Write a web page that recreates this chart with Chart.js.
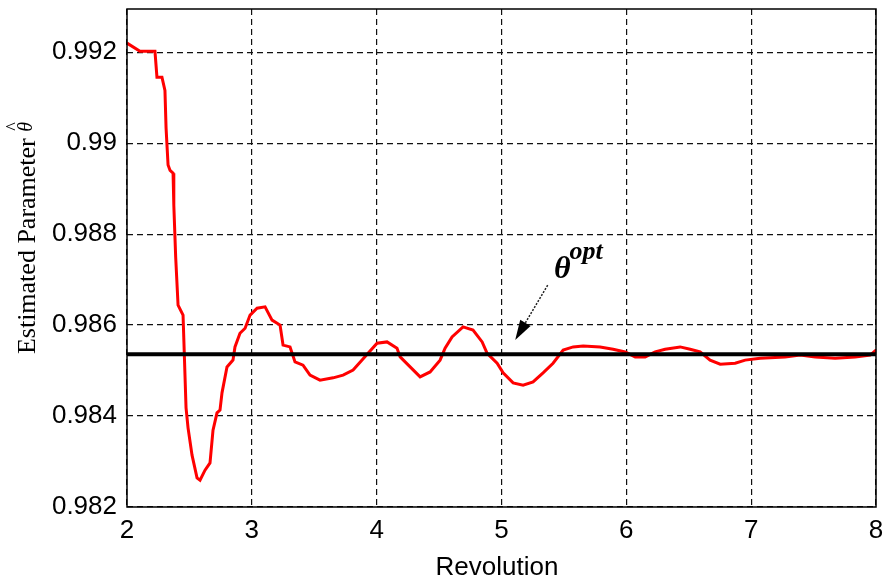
<!DOCTYPE html>
<html>
<head>
<meta charset="utf-8">
<script src="https://cdn.jsdelivr.net/npm/chart.js@4/dist/chart.umd.min.js"></script>
<style>
  html, body { margin: 0; padding: 0; background: #ffffff; }
  #wrap { width: 883px; height: 584px; }
</style>
</head>
<body>
<div id="wrap"><canvas id="c" width="883" height="584"></canvas></div>
<script>
// Estimated parameter over revolutions
const revolution = [
  2.000, 2.104, 2.224, 2.240, 2.280, 2.304, 2.313, 2.329, 2.345, 2.369,
  2.375, 2.390, 2.409, 2.449, 2.473, 2.489, 2.521, 2.561, 2.585, 2.625,
  2.665, 2.689, 2.721, 2.745, 2.761, 2.801, 2.849, 2.865, 2.905, 2.946,
  2.986, 3.042, 3.106, 3.162, 3.226, 3.250, 3.306, 3.346, 3.410, 3.466,
  3.546, 3.651, 3.731, 3.811, 3.883, 3.931, 4.003, 4.083, 4.163, 4.188,
  4.268, 4.348, 4.428, 4.508, 4.548, 4.604, 4.692, 4.772, 4.845, 4.885,
  4.965, 5.013, 5.093, 5.173, 5.253, 5.333, 5.413, 5.494, 5.574, 5.654,
  5.790, 5.894, 5.990, 6.071, 6.151, 6.231, 6.311, 6.431, 6.511, 6.591,
  6.671, 6.752, 6.872, 6.952, 7.072, 7.272, 7.393, 7.513, 7.673, 7.833,
  7.954, 8.000
];
const thetaEst = [
  0.99220, 0.99202, 0.99202, 0.99145, 0.99145, 0.99116, 0.99033, 0.98952, 0.98940, 0.98934,
  0.98864, 0.98749, 0.98644, 0.98622, 0.98418, 0.98374, 0.98314, 0.98264, 0.98259, 0.98281,
  0.98297, 0.98369, 0.98407, 0.98413, 0.98451, 0.98508, 0.98523, 0.98552, 0.98582, 0.98593,
  0.98622, 0.98637, 0.98640, 0.98611, 0.98600, 0.98556, 0.98552, 0.98519, 0.98512, 0.98490,
  0.98479, 0.98484, 0.98490, 0.98501, 0.98523, 0.98538, 0.98560, 0.98563, 0.98549, 0.98530,
  0.98508, 0.98486, 0.98497, 0.98523, 0.98549, 0.98574, 0.98596, 0.98589, 0.98563, 0.98538,
  0.98516, 0.98495, 0.98473, 0.98468, 0.98475, 0.98495, 0.98516, 0.98545, 0.98552, 0.98554,
  0.98552, 0.98547, 0.98541, 0.98530, 0.98530, 0.98541, 0.98547, 0.98552, 0.98547, 0.98541,
  0.98523, 0.98514, 0.98516, 0.98523, 0.98527, 0.98530, 0.98534, 0.98530, 0.98527, 0.98530,
  0.98534, 0.98545
];
// Optimal parameter (horizontal reference)
const thetaOptRev = [2, 8];
const thetaOptVal = [0.98536, 0.98536];

// Axis ticks
const xTicks = [2, 3, 4, 5, 6, 7, 8];
const yTicks = [0.982, 0.984, 0.986, 0.988, 0.99, 0.992];

// Annotation anchors (data coordinates)
const arrowTail = [5.37, 0.98688];
const arrowHead = [5.11, 0.98567];
const optLabelAt = [5.42, 0.98703];

const tickFont = { family: '"Liberation Sans", Arial, sans-serif', size: 26 };

const framePlugin = {
  id: 'frameAndLabels',
  afterDraw(chart) {
    const ctx = chart.ctx;
    const a = chart.chartArea;
    const xs = chart.scales.x, ys = chart.scales.y;
    ctx.save();
    // plot frame
    ctx.strokeStyle = '#000';
    ctx.lineWidth = 1.5;
    ctx.setLineDash([]);
    ctx.strokeRect(a.left, a.top, a.right - a.left, a.bottom - a.top);

    // x axis title
    ctx.fillStyle = '#000';
    ctx.font = '26px "Liberation Sans", Arial, sans-serif';
    ctx.textAlign = 'center';
    ctx.textBaseline = 'alphabetic';
    ctx.fillText('Revolution', 497, 575);

    // y axis title (rotated)
    ctx.save();
    ctx.translate(35, 238);
    ctx.rotate(-Math.PI / 2);
    const main = 'Estimated Parameter ';
    ctx.font = '26px "Liberation Serif", "Times New Roman", serif';
    const wMain = ctx.measureText(main).width;
    ctx.font = 'italic 20px "Liberation Serif", "Times New Roman", serif';
    const wTh = ctx.measureText('\u03b8').width;
    const start = -(wMain + wTh) / 2;
    ctx.textAlign = 'left';
    ctx.font = '26px "Liberation Serif", "Times New Roman", serif';
    ctx.fillText(main, start, 0);
    ctx.font = 'italic 20px "Liberation Serif", "Times New Roman", serif';
    ctx.fillText('\u03b8', start + wMain, -3);
    ctx.font = '18px "Liberation Serif", "Times New Roman", serif';
    ctx.fillText('^', start + wMain + 1, -16);
    ctx.restore();

    // arrow to the optimal line
    const tx = xs.getPixelForValue(arrowTail[0]), ty = ys.getPixelForValue(arrowTail[1]);
    const hx = xs.getPixelForValue(arrowHead[0]), hy = ys.getPixelForValue(arrowHead[1]);
    const ang = Math.atan2(hy - ty, hx - tx);
    const headLen = 20, headW = 6;
    const bx = hx - headLen * Math.cos(ang), by = hy - headLen * Math.sin(ang);
    ctx.strokeStyle = '#222';
    ctx.lineWidth = 1.5;
    ctx.setLineDash([2, 1.5]);
    ctx.beginPath();
    ctx.moveTo(tx, ty);
    ctx.lineTo(bx, by);
    ctx.stroke();
    ctx.setLineDash([]);
    ctx.fillStyle = '#000';
    ctx.beginPath();
    ctx.moveTo(hx, hy);
    ctx.lineTo(bx + headW * Math.sin(ang), by - headW * Math.cos(ang));
    ctx.lineTo(bx - headW * Math.sin(ang), by + headW * Math.cos(ang));
    ctx.closePath();
    ctx.fill();

    // theta^opt label
    const lx = xs.getPixelForValue(optLabelAt[0]), ly = ys.getPixelForValue(optLabelAt[1]);
    ctx.textAlign = 'left';
    ctx.textBaseline = 'alphabetic';
    ctx.font = 'italic bold 32px "Liberation Serif", "Times New Roman", serif';
    ctx.fillText('\u03b8', lx, ly);
    const wT = ctx.measureText('\u03b8').width;
    ctx.font = 'italic bold 26px "Liberation Serif", "Times New Roman", serif';
    ctx.fillText('opt', lx + wT - 1, ly - 19);
    ctx.restore();
  }
};

new Chart(document.getElementById('c'), {
  type: 'line',
  data: {
    datasets: [
      {
        label: 'theta opt',
        data: thetaOptRev.map((r, i) => ({ x: r, y: thetaOptVal[i] })),
        borderColor: '#000000',
        borderWidth: 4,
        pointRadius: 0,
        tension: 0
      },
      {
        label: 'theta estimate',
        data: revolution.map((r, i) => ({ x: r, y: thetaEst[i] })),
        borderColor: '#ff0000',
        borderWidth: 3,
        pointRadius: 0,
        tension: 0
      }
    ]
  },
  options: {
    responsive: false,
    animation: false,
    layout: { padding: { top: 9, right: 7, left: 0, bottom: 0 } },
    plugins: { legend: { display: false }, tooltip: { enabled: false } },
    scales: {
      x: {
        type: 'linear',
        min: 2,
        max: 8,
        afterBuildTicks(scale) { scale.ticks = xTicks.map(v => ({ value: v })); },
        afterFit(scale) {
          scale.height = 77;
          scale.paddingLeft = 0; scale.paddingRight = 0;
          scale.paddingTop = 0; scale.paddingBottom = 0;
        },
        ticks: {
          color: '#000',
          font: tickFont,
          padding: 8,
          maxRotation: 0,
          callback: v => String(v)
        },
        grid: { color: '#111', lineWidth: 1.2, drawTicks: false },
        border: { display: false, dash: [6, 4] }
      },
      y: {
        type: 'linear',
        min: 0.982,
        max: 0.99295,
        afterBuildTicks(scale) { scale.ticks = yTicks.map(v => ({ value: v })); },
        afterFit(scale) {
          scale.width = 127;
          scale.paddingLeft = 0; scale.paddingRight = 0;
          scale.paddingTop = 0; scale.paddingBottom = 0;
        },
        ticks: {
          color: '#000',
          font: tickFont,
          padding: 10,
          callback: v => String(+v.toFixed(3))
        },
        grid: { color: '#111', lineWidth: 1.2, drawTicks: false },
        border: { display: false, dash: [6, 4] }
      }
    }
  },
  plugins: [framePlugin]
});
</script>
</body>
</html>
